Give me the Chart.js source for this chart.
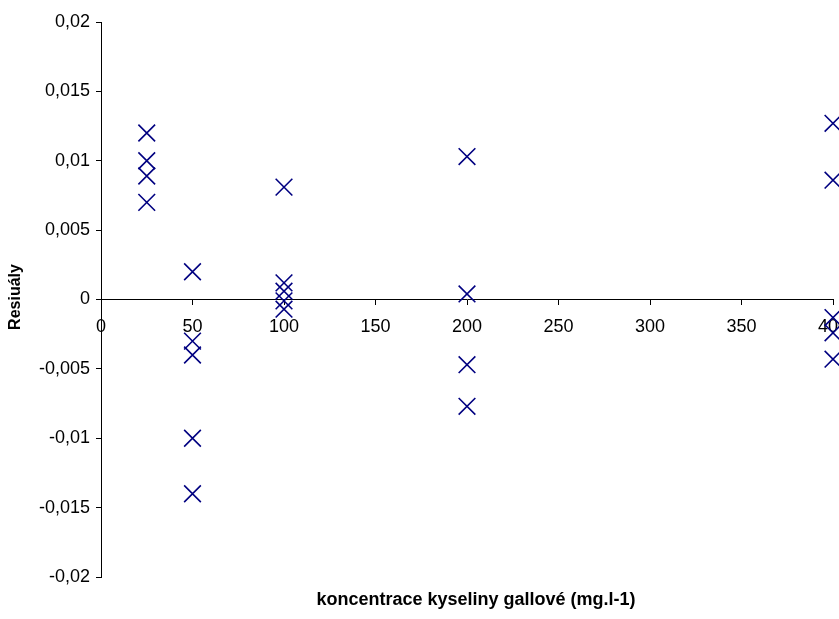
<!DOCTYPE html>
<html>
<head>
<meta charset="utf-8">
<script src="https://cdn.jsdelivr.net/npm/chart.js@4/dist/chart.umd.min.js"></script>
<style>
  html, body { margin: 0; padding: 0; background: #fff; }
  canvas { display: block; }
</style>
</head>
<body>
<canvas id="c" width="839" height="619"></canvas>
<script>
// Concentrations (mg.l-1) and residuals
const concentrations = [25, 50, 100, 200, 400];
const residuals25  = [0.012, 0.010, 0.0089, 0.007];
const residuals50  = [0.002, -0.003, -0.004, -0.010, -0.014];
const residuals100 = [0.0081, 0.0012, 0.0006, -0.0001, -0.0007];
const residuals200 = [0.0103, 0.0004, -0.0047, -0.0077];
const residuals400 = [0.0127, 0.0086, -0.0013, -0.0024, -0.0043];
const residualGroups = [residuals25, residuals50, residuals100, residuals200, residuals400];

const xTitle = 'koncentrace kyseliny gallové (mg.l-1)';
const yTitle = 'Resiuály';

const points = [];
concentrations.forEach((c, i) => {
  residualGroups[i].forEach(r => points.push({ x: c, y: r }));
});

const FONT = "'Liberation Sans', Arial, sans-serif";

function fmt(v) {
  let s = Number(v).toFixed(3);
  s = s.replace(/0+$/, '').replace(/\.$/, '');
  if (s === '-0') s = '0';
  return s.replace('.', ',');
}

const titlesPlugin = {
  id: 'titles',
  afterDraw(chart) {
    const ctx = chart.ctx;
    ctx.save();
    ctx.fillStyle = '#000';
    ctx.textAlign = 'center';
    ctx.textBaseline = 'middle';
    ctx.font = "bold 18px " + FONT;
    ctx.fillText(xTitle, 476, 600);
    ctx.translate(16, 297);
    ctx.rotate(-Math.PI / 2);
    ctx.font = "bold 16px " + FONT;
    ctx.fillText(yTitle, 0, 0);
    ctx.restore();
  }
};

new Chart(document.getElementById('c'), {
  type: 'scatter',
  data: {
    datasets: [{
      data: points,
      showLine: false,
      pointStyle: 'crossRot',
      pointRadius: 11.8,
      pointHoverRadius: 11.8,
      borderColor: '#000080',
      backgroundColor: '#000080',
      pointBorderWidth: 1.6,
      clip: false
    }]
  },
  options: {
    responsive: false,
    animation: false,
    events: [],
    layout: { autoPadding: false, padding: { left: 0, top: 22, right: 6, bottom: 42 } },
    plugins: { legend: { display: false }, tooltip: { enabled: false } },
    scales: {
      x: {
        type: 'linear',
        position: { y: 0 },
        min: 0, max: 400,
        ticks: { stepSize: 50, color: '#000', font: { family: FONT, size: 18 }, padding: 12, maxRotation: 0, autoSkip: false },
        grid: { drawOnChartArea: false, drawTicks: true, tickLength: 5, color: '#000' },
        border: { display: true, color: '#000', width: 1 },
        afterFit(s) { s.paddingLeft = 0; s.paddingRight = 0; }
      },
      y: {
        type: 'linear',
        position: 'left',
        min: -0.02, max: 0.02,
        ticks: { stepSize: 0.005, color: '#000', font: { family: FONT, size: 18 }, padding: 6, callback: v => fmt(v) },
        grid: { drawOnChartArea: false, drawTicks: true, tickLength: 5, color: '#000' },
        border: { display: true, color: '#000', width: 1 },
        afterFit(s) { s.width = 101; s.paddingTop = 0; s.paddingBottom = 0; }
      }
    }
  },
  plugins: [titlesPlugin]
});
</script>
</body>
</html>
